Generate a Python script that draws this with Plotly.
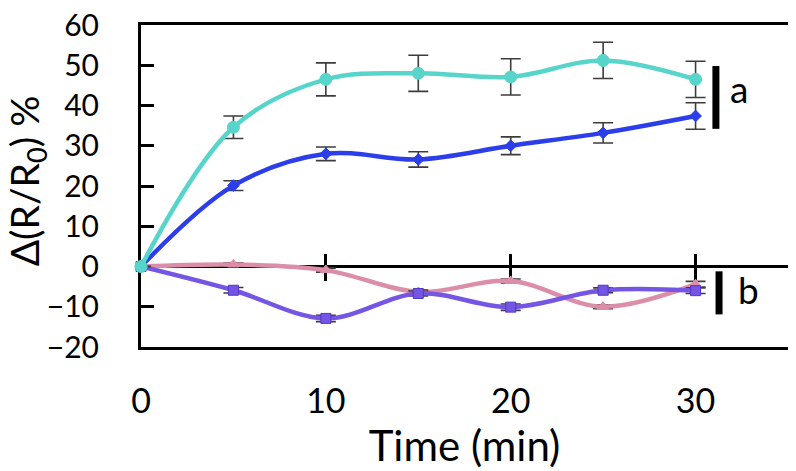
import plotly.graph_objects as go

time_min = [0, 5, 10, 15, 20, 25, 30]

cyan_vals = [0, 34.6, 46.5, 48.0, 47.1, 51.2, 46.5]
cyan_err = [0, 2.8, 4.1, 4.5, 4.5, 4.5, 4.5]

blue_vals = [0, 20.1, 28.0, 26.6, 30.0, 33.2, 37.4]
blue_err = [0, 1.2, 1.7, 1.9, 2.2, 2.5, 3.3]

pink_vals = [0, 0.5, -0.9, -6.3, -3.6, -10.0, -4.4]
pink_err = [0, 0.4, 0.5, 0.5, 0.5, 0.5, 0.7]

purple_vals = [0, -5.9, -12.9, -6.7, -10.1, -5.9, -6.0]
purple_err = [0, 0.7, 0.8, 0.6, 0.8, 0.6, 0.7]

x_ticks = [0, 10, 20, 30]
y_ticks = [-20, -10, 0, 10, 20, 30, 40, 50, 60]

FONT = "Lato"
ERR = "#3c3c3c"

fig = go.Figure()

def add_series(vals, errs, color, symbol, msize, mline):
    fig.add_trace(go.Scatter(
        x=time_min, y=vals, mode="lines+markers",
        line=dict(color=color, width=4.5, shape="spline", smoothing=1.0),
        marker=dict(symbol=symbol, size=msize, color=color,
                    line=dict(color=mline, width=1)),
        error_y=dict(type="data", array=errs, visible=True,
                     color=ERR, thickness=1.6, width=10),
        cliponaxis=False, showlegend=False,
    ))

add_series(pink_vals, pink_err, "#DC8DA8", "triangle-up", 10, "#DC8DA8")
add_series(purple_vals, purple_err, "#7556E4", "square", 10, "#5236C8")
add_series(blue_vals, blue_err, "#2B3EEA", "diamond", 9, "#2B3EEA")
add_series(cyan_vals, cyan_err, "#57D5CB", "circle", 12, "#57D5CB")

# empty traces so that the tick-only axes along y = 0 are drawn
for ax in ["x2", "x3"]:
    fig.add_trace(go.Scatter(x=[None], y=[None], xaxis=ax, yaxis="y",
                             showlegend=False, hoverinfo="skip"))

# labelled brackets "a" and "b"
bar_x = [31.1, 31.27]
bar_y0 = [34.2, -11.9]
bar_y1 = [49.8, -1.2]
bar_labels = ["a", "b"]
label_x = [32.35, 32.85]
label_y = [44.2, -5.6]
for i in range(2):
    fig.add_shape(type="line", xref="x", yref="y",
                  x0=bar_x[i], x1=bar_x[i], y0=bar_y0[i], y1=bar_y1[i],
                  line=dict(color="black", width=7))
    fig.add_annotation(x=label_x[i], y=label_y[i], xref="x", yref="y",
                       text=bar_labels[i], showarrow=False,
                       font=dict(family=FONT, size=37, color="black"))

# y-axis title placed as a rotated text beside the axis
fig.add_annotation(x=-0.177, y=0.516, xref="paper", yref="paper",
                   text="Δ(R/R<sub>0</sub>) %", textangle=-90, showarrow=False,
                   xanchor="center", yanchor="middle",
                   font=dict(family=FONT, size=39, color="black"))

tick_axis = dict(
    range=[0, 35], overlaying="x", anchor="free", position=0.25,
    tickvals=x_ticks[1:], ticklen=13, tickwidth=3,
    tickcolor="black", showticklabels=False, showgrid=False,
    zeroline=False, showline=False, layer="below traces",
)

# the page adds an 8px body margin, so the figure is 8px smaller
fig.update_layout(
    width=788, height=463,
    margin=dict(l=133, r=8, t=17, b=124, autoexpand=False),
    paper_bgcolor="white", plot_bgcolor="white",
    font=dict(family=FONT, size=30, color="black"),
    xaxis=dict(
        range=[0, 35], tickvals=x_ticks, ticks="", showgrid=False,
        zeroline=False, showline=True, linewidth=3, linecolor="black",
        mirror=True, ticklabelstandoff=22, automargin=False,
        ticklabeloverflow="allow",
        tickfont=dict(family=FONT, size=34),
        title=dict(text="Time (min)", font=dict(family=FONT, size=42), standoff=6),
        layer="below traces",
    ),
    xaxis2=dict(tick_axis, ticks="outside"),
    xaxis3=dict(tick_axis, ticks="inside"),
    yaxis=dict(
        range=[-20, 60], tickvals=y_ticks, ticks="inside", ticklen=13,
        tickwidth=3, tickcolor="black", showgrid=False,
        zeroline=True, zerolinewidth=3, zerolinecolor="black",
        showline=True, linewidth=3, linecolor="black", mirror=True,
        ticklabelstandoff=33, automargin=False,
        ticklabeloverflow="allow",
        tickfont=dict(family=FONT, size=30),
        layer="below traces",
    ),
)

fig.write_html("out.html")
